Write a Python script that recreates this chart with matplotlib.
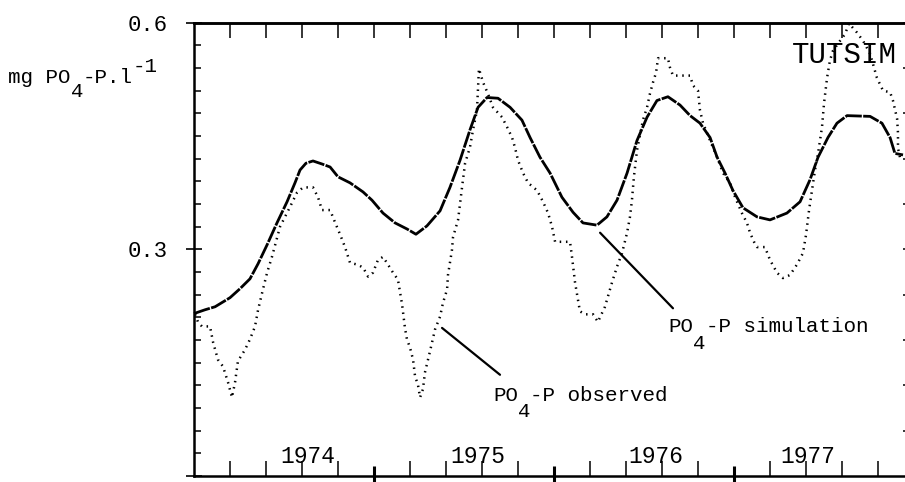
import matplotlib
matplotlib.use("Agg")
import matplotlib.pyplot as plt
import numpy as np
from matplotlib.ticker import FixedLocator, MultipleLocator, NullFormatter

plt.rcParams['font.family'] = ['Liberation Mono', 'DejaVu Sans Mono']
plt.rcParams['font.size'] = 15

# tempo em anos a partir do inicio do eixo (1 unidade = 1 ano)
time_sim = [0.000, 0.061, 0.117, 0.200, 0.256, 0.311, 0.356, 0.406, 0.461, 0.517,
            0.561, 0.589, 0.622, 0.661, 0.711, 0.756, 0.800, 0.867, 0.939, 0.989,
            1.050, 1.117, 1.183, 1.233, 1.294, 1.367, 1.422, 1.478, 1.533, 1.578,
            1.628, 1.689, 1.756, 1.822, 1.867, 1.922, 1.978, 2.044, 2.106, 2.161,
            2.239, 2.294, 2.350, 2.406, 2.461, 2.517, 2.572, 2.633, 2.700, 2.756,
            2.811, 2.867, 2.906, 2.950, 2.994, 3.050, 3.128, 3.200, 3.294, 3.367,
            3.422, 3.467, 3.522, 3.572, 3.628, 3.756, 3.822, 3.867, 3.894, 3.939]
po4_sim = [0.215, 0.220, 0.224, 0.236, 0.248, 0.261, 0.281, 0.306, 0.335, 0.363,
           0.388, 0.405, 0.414, 0.417, 0.413, 0.409, 0.396, 0.388, 0.376, 0.365,
           0.348, 0.335, 0.327, 0.320, 0.331, 0.351, 0.382, 0.418, 0.458, 0.488,
           0.501, 0.500, 0.488, 0.471, 0.448, 0.422, 0.401, 0.369, 0.349, 0.335,
           0.332, 0.343, 0.365, 0.401, 0.444, 0.475, 0.497, 0.502, 0.491, 0.477,
           0.467, 0.448, 0.422, 0.401, 0.378, 0.355, 0.343, 0.339, 0.348, 0.363,
           0.392, 0.422, 0.448, 0.467, 0.477, 0.476, 0.467, 0.448, 0.427, 0.425]

time_obs = [0.006, 0.022, 0.044, 0.089, 0.106, 0.133, 0.161, 0.189, 0.211, 0.228,
            0.244, 0.283, 0.311, 0.339, 0.356, 0.383, 0.406, 0.433, 0.478, 0.533,
            0.572, 0.606, 0.661, 0.689, 0.711, 0.756, 0.783, 0.811, 0.839, 0.867,
            0.906, 0.939, 0.967, 0.994, 1.022, 1.050, 1.072, 1.106, 1.133, 1.144,
            1.156, 1.172, 1.183, 1.200, 1.217, 1.228, 1.244, 1.256, 1.272, 1.283,
            1.294, 1.311, 1.339, 1.367, 1.383, 1.406, 1.411, 1.433, 1.439, 1.467,
            1.489, 1.506, 1.533, 1.550, 1.572, 1.583, 1.606, 1.633, 1.661, 1.711,
            1.739, 1.767, 1.783, 1.800, 1.828, 1.856, 1.906, 1.939, 1.967, 1.989,
            2.006, 2.089, 2.100, 2.117, 2.133, 2.144, 2.172, 2.217, 2.244, 2.283,
            2.322, 2.350, 2.378, 2.406, 2.422, 2.433, 2.444, 2.461, 2.494, 2.517,
            2.533, 2.550, 2.567, 2.578, 2.633, 2.644, 2.661, 2.756, 2.772, 2.800,
            2.811, 2.828, 2.867, 2.906, 2.939, 2.978, 3.006, 3.044, 3.072, 3.089,
            3.111, 3.128, 3.172, 3.200, 3.239, 3.272, 3.311, 3.350, 3.383, 3.400,
            3.417, 3.433, 3.450, 3.467, 3.489, 3.500, 3.517, 3.533, 3.550, 3.589,
            3.617, 3.639, 3.683, 3.717, 3.756, 3.794, 3.828, 3.867, 3.883, 3.906,
            3.911, 3.911, 3.922]
po4_obs = [0.214, 0.204, 0.198, 0.198, 0.177, 0.154, 0.145, 0.124, 0.104, 0.124,
           0.152, 0.167, 0.181, 0.198, 0.220, 0.247, 0.269, 0.290, 0.330, 0.356,
           0.375, 0.382, 0.382, 0.369, 0.352, 0.352, 0.336, 0.320, 0.303, 0.282,
           0.280, 0.276, 0.264, 0.269, 0.286, 0.290, 0.282, 0.269, 0.260, 0.244,
           0.227, 0.196, 0.181, 0.170, 0.154, 0.132, 0.121, 0.104, 0.115, 0.137,
           0.148, 0.165, 0.194, 0.211, 0.229, 0.247, 0.266, 0.299, 0.316, 0.339,
           0.382, 0.414, 0.435, 0.458, 0.484, 0.539, 0.521, 0.506, 0.488, 0.475,
           0.462, 0.448, 0.435, 0.418, 0.401, 0.388, 0.378, 0.363, 0.348, 0.330,
           0.310, 0.310, 0.290, 0.256, 0.233, 0.218, 0.214, 0.214, 0.204, 0.224,
           0.256, 0.277, 0.295, 0.322, 0.343, 0.365, 0.396, 0.431, 0.471, 0.488,
           0.506, 0.521, 0.534, 0.553, 0.553, 0.541, 0.530, 0.530, 0.517, 0.510,
           0.484, 0.467, 0.444, 0.422, 0.401, 0.388, 0.369, 0.348, 0.335, 0.322,
           0.310, 0.303, 0.303, 0.286, 0.269, 0.262, 0.266, 0.280, 0.295, 0.319,
           0.352, 0.378, 0.405, 0.427, 0.462, 0.493, 0.527, 0.550, 0.563, 0.576,
           0.585, 0.599, 0.587, 0.576, 0.559, 0.527, 0.510, 0.508, 0.497, 0.473,
           0.454, 0.434, 0.422]

year_labels = ['1974', '1975', '1976', '1977']
year_label_pos = [0.478, 1.422, 2.411, 3.256]

W, H = 905, 482
CW = 12.5  # largura de um caractere (px)

fig = plt.figure(figsize=(W / 100, H / 100), dpi=100)
ax = fig.add_axes([194 / W, 6 / H, 720 / W, 453.3 / H])

# Curvas
ax.plot(time_sim, po4_sim, color='black', lw=2.0, linestyle=(0, (6, 0.5)), clip_on=False)
ax.plot(time_obs, po4_obs, color='black', lw=1.8, linestyle=(0, (0.6, 1.9)), clip_on=False)

ax.set_xlim(0, 4)
ax.set_ylim(0, 0.6)
for s in ax.spines.values():
    s.set_linewidth(1.8)

# Eixo x (em baixo)
ax.xaxis.set_major_locator(FixedLocator([1, 2, 3]))
ax.xaxis.set_minor_locator(FixedLocator([x for x in np.arange(0.2, 4.0, 0.2) if abs(x - round(x)) > 0.05]))
ax.xaxis.set_major_formatter(NullFormatter())
ax.tick_params(axis='x', which='major', direction='inout', length=14, width=2.2, labelbottom=False)
ax.tick_params(axis='x', which='minor', direction='in', length=10.8, width=1.1)

# Eixo y (esquerda)
ax.yaxis.set_major_locator(FixedLocator([0, 0.3, 0.6]))
ax.set_yticklabels(['', '0.3', '0.6'], fontsize=16)
ax.yaxis.set_minor_locator(MultipleLocator(0.03))
ax.tick_params(axis='y', which='major', direction='inout', length=11.5, width=1.2, pad=13)
ax.tick_params(axis='y', which='minor', direction='in', length=5, width=1.1)

# Ticks de cima e da direita
top = ax.secondary_xaxis('top')
top.set_xticks(np.arange(0.2, 4.0, 0.2))
top.xaxis.set_major_formatter(NullFormatter())
top.tick_params(direction='in', length=10.8, width=1.1)
top.spines['top'].set_linewidth(1.8)

right = ax.secondary_yaxis('right')
right.set_yticks(np.arange(0.06, 0.6, 0.06))
right.yaxis.set_major_formatter(NullFormatter())
right.tick_params(direction='in', length=8, width=1.1)

# Anos
for lab, pos in zip(year_labels, year_label_pos):
    ax.text(pos, 0.017, lab, ha='left', va='baseline', fontsize=16.5)


def put(x, y, s, **kw):
    fig.text(x / W, 1 - y / H, s, ha='left', va='baseline', **kw)


def label(x0, y0, parts):
    for slot, txt, dy in parts:
        put(x0 + slot * CW, y0 + dy, txt)


label(8, 83, [(0, 'mg PO', 0), (5, '4', 14), (6, '-P.l', 0), (10, '-1', -11)])
label(493, 401, [(0, 'PO', 0), (2, '4', 16), (3, '-P observed', 0)])
label(668, 332, [(0, 'PO', 0), (2, '4', 17), (3, '-P simulation', 0)])
put(792, 63, 'TUTSIM', family='Liberation Mono', fontsize=21)

# Linhas de chamada
ax.annotate('', xy=(1.378, 0.196), xytext=(1.700, 0.134),
            arrowprops=dict(arrowstyle='-', lw=1.6, shrinkA=0, shrinkB=0))
ax.annotate('', xy=(2.256, 0.322), xytext=(2.661, 0.222),
            arrowprops=dict(arrowstyle='-', lw=1.6, shrinkA=0, shrinkB=0))

fig.savefig('out.png', dpi=100)
